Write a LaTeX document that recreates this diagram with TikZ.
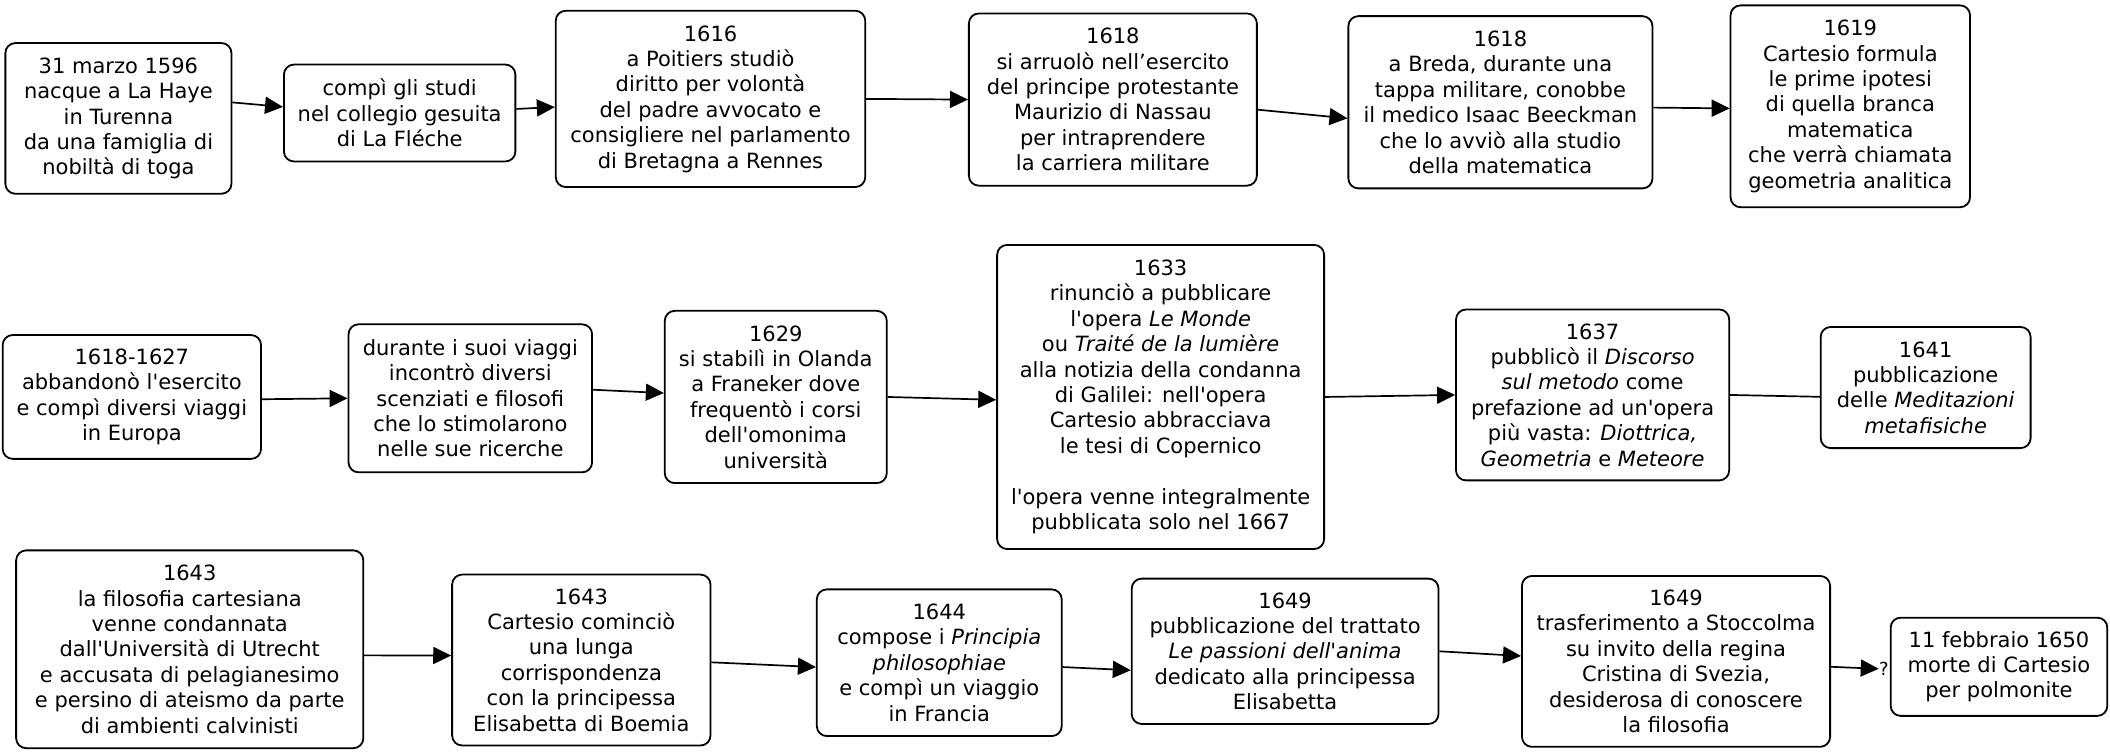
\documentclass[tikz,border=0pt]{standalone}
\usepackage{fontspec}
\setmainfont{DejaVu Sans}
\usepackage{tikz}
\usetikzlibrary{arrows.meta,shapes}
\newdimen\px
\px=0.6728pt
\newcommand{\apo}{\textquotesingle}
\tikzset{
  tappa/.style={draw, line width=0.9pt, rounded corners=5pt, align=center, inner sep=0pt,
    font=\fontsize{10.5}{12.7}\selectfont},
  misura/.style 2 args={minimum width=#1*\px, minimum height=#2*\px},
  freccia/.style={-{Triangle[length=9pt,width=8.5pt]}, line width=0.85pt},
}

\begin{document}
\begin{tikzpicture}[x=0.6728pt, y=-0.6728pt]
            \useasboundingbox (0,0) rectangle (1568,561);
            % prima riga
            \node[tappa, misura={168}{112}] (nascita) at (88,88) {31 marzo 1596\\ nacque a La Haye\\ in Turenna\\ da una famiglia di\\ nobiltà di toga};
            \node[tappa, misura={172}{72}] (studi) at (297,84) {compì gli studi\\ nel collegio gesuita\\ di La Fléche};
            \node[tappa, misura={230}{131}] (poitiers) at (528,73.5) {1616\\ a Poitiers studiò\\ diritto per volontà\\ del padre avvocato e\\ consigliere nel parlamento\\ di Bretagna a Rennes};
            \node[tappa, misura={214}{128}] (esercito) at (827,74) {1618\\ si arruolò nell’esercito\\ del principe protestante\\ Maurizio di Nassau\\ per intraprendere\\ la carriera militare};
            \node[tappa, misura={226}{128}] (breda) at (1115,76) {1618\\ a Breda, durante una\\ tappa militare, conobbe\\ il medico Isaac Beeckman\\ che lo avviò alla studio\\ della matematica};
            \node[tappa, misura={178}{150}] (ipotesi) at (1375,79) {1619\\ Cartesio formula\\ le prime ipotesi\\ di quella branca\\ matematica\\ che verrà chiamata\\ geometria analitica};
            % seconda riga
            \node[tappa, misura={192}{92}] (viaggi) at (98,295) {1618-1627\\ abbandonò l\apo esercito\\ e compì diversi viaggi\\ in Europa};
            \node[tappa, misura={181}{110}] (incontri) at (349.5,296) {durante i suoi viaggi\\ incontrò diversi\\ scenziati e filosofi\\ che lo stimolarono\\ nelle sue ricerche};
            \node[tappa, misura={165}{128}] (olanda) at (576.5,295) {1629\\ si stabilì in Olanda\\ a Franeker dove\\ frequentò i corsi\\ dell\apo omonima\\ università};
            \node[tappa, misura={243}{226}] (monde) at (862.5,295) {1633\\ rinunciò a pubblicare\\ l\apo opera \textit{Le Monde}\\ ou \textit{Traité de la lumière}\\ alla notizia della condanna\\ di Galilei: nell\apo opera\\ Cartesio abbracciava\\ le tesi di Copernico\\[12.7pt] l\apo opera venne integralmente\\ pubblicata solo nel 1667};
            \node[tappa, misura={203}{127}] (metodo) at (1183.5,293.5) {1637\\ pubblicò il \textit{Discorso}\\ \textit{sul metodo} come\\ prefazione ad un\apo opera\\ più vasta: \textit{Diottrica,}\\ \textit{Geometria} e \textit{Meteore}};
            \node[tappa, misura={156}{90}] (meditazioni) at (1431,288) {1641\\ pubblicazione\\ delle \textit{Meditazioni}\\ \textit{metafisiche}};
            % terza riga
            \node[tappa, misura={258}{147}] (utrecht) at (141,482.5) {1643\\ la filosofia cartesiana\\ venne condannata\\ dall\apo Università di Utrecht\\ e accusata di pelagianesimo\\ e persino di ateismo da parte\\ di ambienti calvinisti};
            \node[tappa, misura={192}{127}] (elisabetta) at (432,490.5) {1643\\ Cartesio cominciò\\ una lunga\\ corrispondenza\\ con la principessa\\ Elisabetta di Boemia};
            \node[tappa, misura={182}{109}] (principia) at (698,492.5) {1644\\ compose i \textit{Principia}\\ \textit{philosophiae}\\ e compì un viaggio\\ in Francia};
            \node[tappa, misura={228}{108}] (passioni) at (955,484) {1649\\ pubblicazione del trattato\\ \textit{Le passioni dell\apo anima}\\ dedicato alla principessa\\ Elisabetta};
            \node[tappa, misura={229}{127}] (stoccolma) at (1245.5,491.5) {1649\\ trasferimento a Stoccolma\\ su invito della regina\\ Cristina di Svezia,\\ desiderosa di conoscere\\ la filosofia};
            \node[tappa, misura={161}{73}] (morte) at (1485.5,495.5) {11 febbraio 1650\\ morte di Cartesio\\ per polmonite};
            \node[font=\fontsize{9}{10}\selectfont, inner sep=0pt] (dubbio) at (1400,497) {?};
            % frecce
            \draw[freccia] (nascita.8) -- (studi.177);
            \draw[freccia] (studi.2) -- (poitiers.183);
            \draw[freccia] (poitiers.east) -- (esercito.west);
            \draw[freccia] (esercito.-4) -- (breda.186);
            \draw[freccia] (breda.-2) -- (ipotesi.181);
            \draw[freccia] (viaggi.-1) -- (incontri.west);
            \draw[freccia] (incontri.4) -- (olanda.178);
            \draw[freccia] (olanda.east) -- (monde.181);
            \draw[freccia] (monde.east) -- (metodo.west);
            \draw[line width=0.85pt] (metodo.east) -- (meditazioni.185);
            \draw[freccia] (utrecht.-2) -- (elisabetta.178);
            \draw[freccia] (elisabetta.-1) -- (principia.182);
            \draw[freccia] (principia.-2) -- (passioni.187);
            \draw[freccia] (passioni.east) -- (stoccolma.178);
            \draw[freccia] (stoccolma.-2) -- (dubbio.west);
\end{tikzpicture}
\end{document}
